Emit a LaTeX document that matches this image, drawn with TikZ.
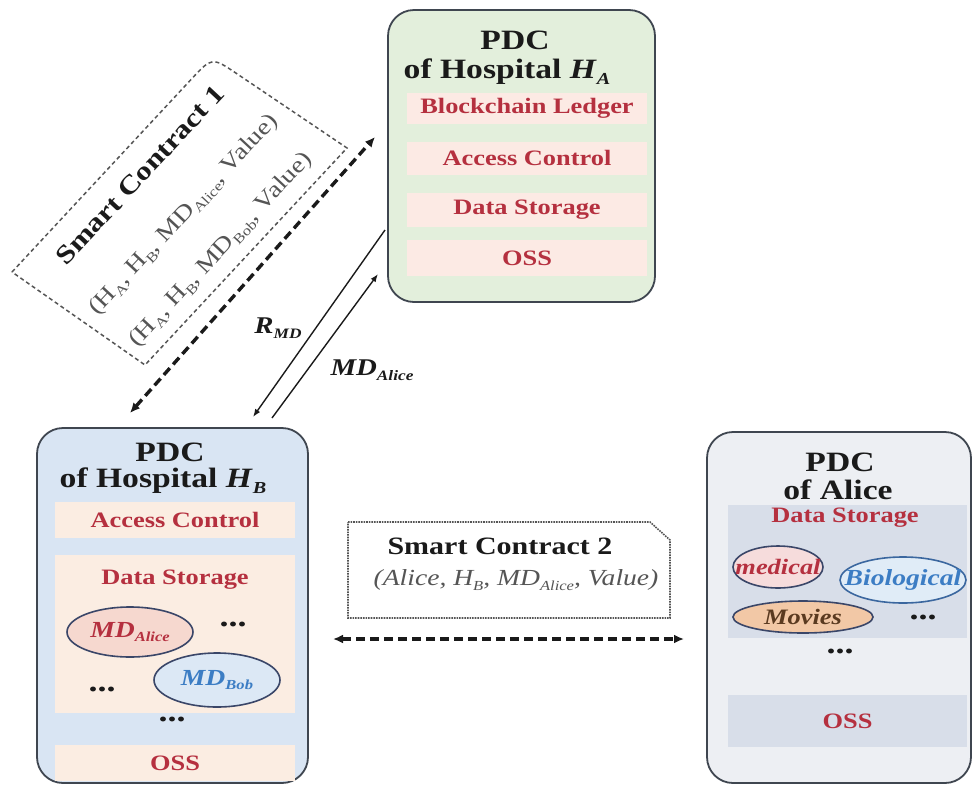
\documentclass[tikz,border=0pt]{standalone}
\usepackage{fontspec}
\setmainfont[FakeStretch=1.2]{Liberation Serif}
\usetikzlibrary{shapes.geometric,arrows.meta}
\newcommand\lsub[1]{\raisebox{-0.45ex}{\scalebox{0.6}{#1}}}
\newcommand\fsz[1]{\fontsize{#1}{#1}\selectfont}
\definecolor{boxline}{HTML}{3F4650}
\definecolor{HAfill}{HTML}{E3EFDC}
\definecolor{HBfill}{HTML}{D9E5F3}
\definecolor{ALfill}{HTML}{EDEFF3}
\definecolor{HArow}{HTML}{FCEAE4}
\definecolor{HBrow}{HTML}{FBEDE2}
\definecolor{ALrow}{HTML}{D8DEE9}
\definecolor{redtext}{HTML}{B5303F}
\definecolor{bluetext}{HTML}{3C7DC4}
\definecolor{ellline}{HTML}{3A4668}
\definecolor{titletext}{HTML}{1A1A1A}
\definecolor{graytext}{HTML}{555555}
\definecolor{mdafill}{HTML}{F6D8CF}
\definecolor{mdbfill}{HTML}{DCE8F5}
\definecolor{medfill}{HTML}{F6DCDC}
\definecolor{biofill}{HTML}{E0ECF7}
\definecolor{movfill}{HTML}{F2C8A6}
\definecolor{movtext}{HTML}{5A3A20}
\begin{document}
\begin{tikzpicture}[x=1pt,y=-1pt,
  pdcbox/.style={draw=boxline, line width=1.8pt, rounded corners=26pt, inner sep=0pt},
  rowbox/.style={inner sep=0pt, font=\fsz{22}\bfseries, text=redtext},
  ttl/.style={font=\fsz{28}\bfseries, text=titletext, inner sep=0pt},
  blob/.style={ellipse, draw=ellline, line width=1.6pt, inner sep=0pt},
  dotsnode/.style={font=\fsz{30}\bfseries, text=titletext, inner sep=0pt},
  thinarrow/.style={draw=titletext, line width=1.4pt, -{Latex[length=8pt,width=6pt]}},
  dasharrow/.style={draw=titletext, line width=3.4pt, dash pattern=on 9pt off 5pt, {Latex[length=10pt,width=9pt]}-{Latex[length=10pt,width=9pt]}},
  arlabel/.style={font=\fsz{22}\bfseries\itshape, text=titletext, inner sep=0pt}
]
\fill[white] (0,0) rectangle (972,785);
\useasboundingbox (0,0) rectangle (972,785);

% ---------- PDC of Hospital H_A ----------
\node[pdcbox, fill=HAfill, minimum width=267, minimum height=292] (HA) at (521.5,156) {};
\node[ttl] (HAt1) at (515,40) {PDC};
\node[ttl] (HAt2) at (507,72) {of Hospital \textit{H}\lsub{\textit{A}}};
\node[rowbox, fill=HArow, minimum width=240, minimum height=31] (haBL) at (527,108) {Blockchain Ledger};
\node[rowbox, fill=HArow, minimum width=240, minimum height=33] (haAC) at (527,158) {Access Control};
\node[rowbox, fill=HArow, minimum width=240, minimum height=34] (haDS) at (527,210) {Data Storage};
\node[rowbox, fill=HArow, minimum width=240, minimum height=36] (haOS) at (527,258) {OSS};

% ---------- PDC of Hospital H_B ----------
\node[pdcbox, fill=HBfill, minimum width=271, minimum height=355] (HB) at (172.5,605.5) {};
\node[ttl] (HBt1) at (170,452) {PDC};
\node[ttl] (HBt2) at (163,481) {of Hospital \textit{H}\lsub{\textit{B}}};
\node[rowbox, fill=HBrow, minimum width=240, minimum height=36] (hbAC) at (175,520) {Access Control};
\node[fill=HBrow, inner sep=0pt, minimum width=240, minimum height=158] (hbDS) at (175,634) {};
\node[rowbox] (hbDSt) at (175,580) {Data Storage};
\node[blob, fill=mdafill, minimum width=126, minimum height=50] (mdA) at (130,632) {};
\node[arlabel, text=redtext, font=\fsz{23}\bfseries\itshape] at (mdA.center) {MD\lsub{Alice}};
\node[blob, fill=mdbfill, minimum width=126, minimum height=54] (mdB) at (217,680) {};
\node[arlabel, text=bluetext, font=\fsz{23}\bfseries\itshape] at (mdB.center) {MD\lsub{Bob}};
\node[dotsnode] (hbd1) at (233,624) {...};
\node[dotsnode] (hbd2) at (102,689) {...};
\node[dotsnode] (hbd3) at (172,719) {...};
\node[rowbox, fill=HBrow, minimum width=240, minimum height=36] (hbOS) at (175,763) {OSS};

% ---------- PDC of Alice ----------
\node[pdcbox, fill=ALfill, minimum width=264, minimum height=351] (AL) at (839,607.5) {};
\node[ttl] (ALt1) at (840,462) {PDC};
\node[ttl] (ALt2) at (838,490) {of Alice};
\node[fill=ALrow, inner sep=0pt, minimum width=239, minimum height=133] (alDS) at (847.5,571.5) {};
\node[rowbox] (alDSt) at (845,518) {Data Storage};
\node[blob, fill=medfill, minimum width=90, minimum height=42] (med) at (778,567) {};
\node[arlabel, text=redtext] at (med.center) {medical};
\node[blob, fill=biofill, draw=bluetext!60!ellline, minimum width=126, minimum height=46] (bio) at (903,580) {};
\node[arlabel, text=bluetext, font=\fsz{23}\bfseries\itshape] at (bio.center) {Biological};
\node[blob, fill=movfill, minimum width=140, minimum height=32] (mov) at (803,617) {};
\node[arlabel, text=movtext] at (mov.center) {Movies};
\node[dotsnode] (ald1) at (923,617) {...};
\node[dotsnode] (ald2) at (840,651) {...};
\node[fill=ALrow, inner sep=0pt, minimum width=239, minimum height=52] (alOS) at (847.5,721) {};
\node[rowbox] at (alOS.center) {OSS};

% ---------- Smart Contract 1 ----------
\draw[draw=graytext, line width=1.5pt, dash pattern=on 4pt off 3pt]
  (12,272) -- (191.6,78.9) .. controls (212,57) .. (237,73.8) -- (347,148) -- (145,365) -- cycle;
\node[rotate=47, font=\fsz{26}\bfseries, text=titletext, inner sep=0pt] (sc1t) at (140,175) {Smart Contract 1};
\node[rotate=47, font=\fsz{23}, text=graytext, inner sep=0pt] (sc1a) at (184,215) {(H\lsub{A}, H\lsub{B}, MD\lsub{Alice}, Value)};
\node[rotate=47, font=\fsz{23}, text=graytext, inner sep=0pt] (sc1b) at (221,250) {(H\lsub{A}, H\lsub{B}, MD\lsub{Bob}, Value)};
\coordinate (sc1top) at (375,137);
\coordinate (sc1bot) at (130,413);
\draw[dasharrow] (sc1bot) -- (sc1top);

% ---------- R_MD and MD_Alice ----------
\coordinate (rmdS) at (385,230);
\coordinate (rmdE) at (253,417);
\coordinate (mdaS) at (272,418);
\coordinate (mdaE) at (378,274);
\draw[thinarrow] (rmdS) -- (rmdE);
\draw[thinarrow] (mdaS) -- (mdaE);
\node[arlabel, font=\fsz{24}\bfseries\itshape] (rmdl) at (278,328) {R\lsub{MD}};
\node[arlabel, font=\fsz{24}\bfseries\itshape] (mdal) at (372,370) {MD\lsub{Alice}};

% ---------- Smart Contract 2 ----------
\draw[draw=graytext, line width=1.6pt, densely dotted]
  (348,522) -- (650,522) -- (670,540) -- (670,618) -- (348,618) -- cycle;
\node[font=\fsz{25}\bfseries, text=titletext, inner sep=0pt] (sc2t) at (500,546) {Smart Contract 2};
\node[font=\fsz{23}\itshape, text=graytext, inner sep=0pt] (sc2a) at (516,580) {(Alice, H\lsub{B}, MD\lsub{Alice}, Value)};
\coordinate (sc2l) at (333,639);
\coordinate (sc2r) at (684,639);
\draw[dasharrow] (sc2l) -- (sc2r);
\end{tikzpicture}
\end{document}
